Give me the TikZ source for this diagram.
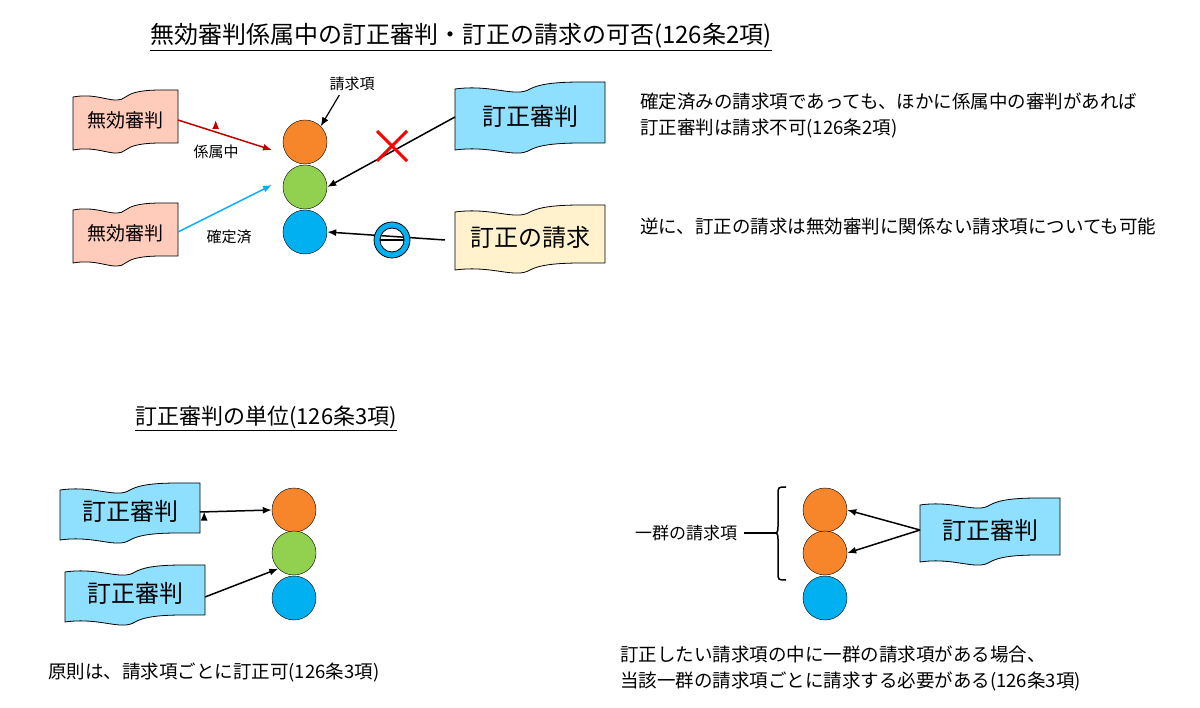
\documentclass[tikz,border=0pt]{standalone}
\usepackage{fontspec}
\setmainfont{Noto Sans CJK JP}
\usetikzlibrary{arrows.meta}
\definecolor{pinkbox}{RGB}{255,204,188}
\definecolor{bluebox}{RGB}{143,223,255}
\definecolor{yellowbox}{RGB}{255,242,204}
\definecolor{claimA}{RGB}{247,134,43}
\definecolor{claimB}{RGB}{146,208,80}
\definecolor{claimC}{RGB}{0,176,240}
\tikzset{
  claim/.style={shape=circle,draw=black,minimum size=44pt,inner sep=0pt},
  arr/.style={-{Latex[length=9pt,width=7pt]},line width=1.5pt},
  lbl/.style={font=\fontsize{15}{18}\selectfont,inner sep=0pt},
  txt/.style={font=\fontsize{18.5}{26}\selectfont,inner sep=0pt,anchor=west,align=left},
}
% wave document: name, x0, y0, x1, y1, fill, text
\newcommand\docbox[7]{%
  \draw[fill=#6,line width=0.8pt]
    (#2,#3+7) .. controls ({#2+0.25*(#4-#2)},#3+2) and ({#2+0.4*(#4-#2)},#3+16) .. ({#2+0.5*(#4-#2)},#3+7)
    .. controls ({#2+0.6*(#4-#2)},#3-1) and ({#2+0.8*(#4-#2)},#3) .. (#4,#3)
    -- (#4,#5-7)
    .. controls ({#2+0.8*(#4-#2)},#5-7) and ({#2+0.6*(#4-#2)},#5-8) .. ({#2+0.5*(#4-#2)},#5)
    .. controls ({#2+0.4*(#4-#2)},#5+9) and ({#2+0.25*(#4-#2)},#5-5) .. (#2,#5) -- cycle;
  \node[inner sep=0pt] (#1) at ({0.5*(#2+#4)},{0.5*(#3+#5)}) {#7};}
\begin{document}
\begin{tikzpicture}[x=1pt,y=-1pt]
  \useasboundingbox (0,0) rectangle (1200,708);

  % upper part
  \node[font=\fontsize{24}{28}\selectfont] (title1) at (461,37) {\underline{無効審判係属中の訂正審判・訂正の請求の可否(126条2項)}};

  {\fontsize{19}{22}\selectfont
  \docbox{inv1}{73}{90}{178}{150}{pinkbox}{無効審判}
  \docbox{inv2}{73}{203}{178}{263}{pinkbox}{無効審判}}
  {\fontsize{24}{28}\selectfont
  \docbox{trial}{455}{82}{605}{150}{bluebox}{訂正審判}
  \docbox{req}{455}{205}{605}{270}{yellowbox}{訂正の請求}}

  \node[claim,fill=claimA] (c1) at (305,142) {};
  \node[claim,fill=claimB] (c2) at (305,187) {};
  \node[claim,fill=claimC] (c3) at (305,232) {};

  \node[lbl] (claimlbl) at (352,84) {請求項};
  \draw[arr,line width=1.2pt] (claimlbl.south west) ++(10,4) coordinate (p0) -- (c1.north east);

  \draw[arr,red!75!black] (inv1.east) ++(52,0) coordinate (q1);
  \draw[arr,red!75!black] (178,120) coordinate (s1) -- (272,150) coordinate (t1);
  \node[lbl] (pend) at (216,152) {係属中};
  \draw[arr,claimC] (178,232) coordinate (s2) -- (272,185) coordinate (t2);
  \node[lbl] (fixed) at (229,237) {確定済};

  \draw[arr] (455,117) coordinate (s3) -- (c2.east);
  \draw[red,line width=3pt] (377,131) -- (407,161) (407,131) -- (377,161);
  \draw[arr] (445,240) coordinate (s4) -- (c3.east);
  \draw[fill=claimC,even odd rule,line width=0.8pt] (392,240) circle (18) (392,240) circle (12);
  \draw[line width=1.5pt] (380,240) -- (404,240);

  \node[txt] (note1) at (640,115) {確定済みの請求項であっても、ほかに係属中の審判があれば\\訂正審判は請求不可(126条2項)};
  \node[txt] (note2) at (640,227) {逆に、訂正の請求は無効審判に関係ない請求項についても可能};

  % lower part
  \node[font=\fontsize{22}{26}\selectfont] (title2) at (266,418) {\underline{訂正審判の単位(126条3項)}};

  {\fontsize{24}{28}\selectfont
  \docbox{tA}{60}{483}{200}{540}{bluebox}{訂正審判}
  \docbox{tB}{65}{565}{205}{622}{bluebox}{訂正審判}
  \docbox{tC}{920}{498}{1060}{562}{bluebox}{訂正審判}}

  \node[claim,fill=claimA] (d1) at (294,510) {};
  \node[claim,fill=claimB] (d2) at (294,553) {};
  \node[claim,fill=claimC] (d3) at (294,598) {};
  \draw[arr] (tA.east) ++(26,0) coordinate (u1);
  \draw[arr] (200,512) -- (d1.west);
  \draw[arr] (205,597) -- (d2.south west);

  \node[txt] (rule1) at (48,673) {原則は、請求項ごとに訂正可(126条3項)};

  \node[claim,fill=claimA] (e1) at (825,510) {};
  \node[claim,fill=claimA] (e2) at (825,553) {};
  \node[claim,fill=claimC] (e3) at (825,598) {};
  \draw[line width=1.5pt] (786,487) .. controls (778,487) .. (778,495) -- (778,525)
    .. controls (778,533) .. (772,533) .. controls (778,533) .. (778,541) -- (778,572)
    .. controls (778,580) .. (786,580);
  \node[txt,font=\fontsize{17}{20}\selectfont] (group) at (635,533) {一群の請求項};
  \draw[line width=1.2pt] (group.east) ++(7,0) coordinate (g0) -- (772,533);
  \draw[arr] (920,530) coordinate (s5) -- (e1.east);
  \draw[arr] (s5) -- (e2.east);

  \node[txt] (rule2) at (620,668) {訂正したい請求項の中に一群の請求項がある場合、\\当該一群の請求項ごとに請求する必要がある(126条3項)};
\end{tikzpicture}
\end{document}
